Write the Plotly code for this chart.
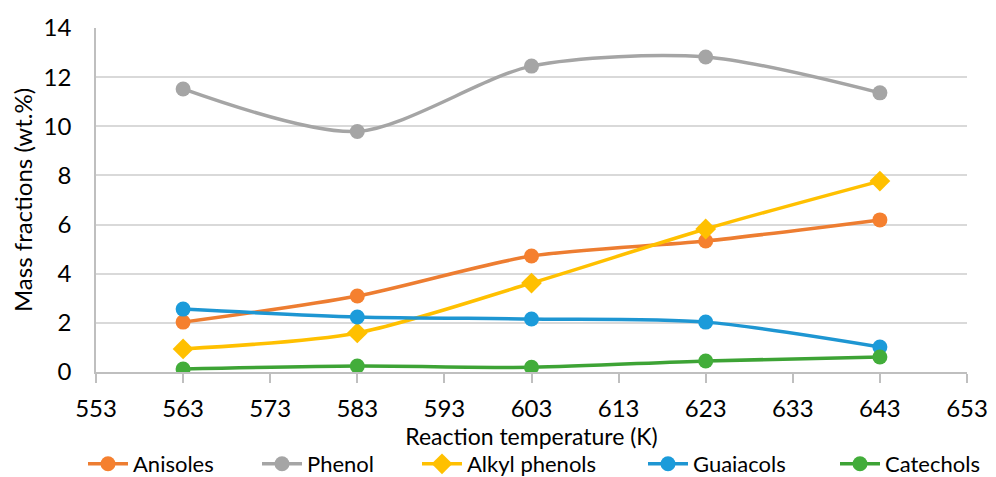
import plotly.graph_objects as go

temps = [563, 583, 603, 623, 643]
anisoles = [2.03, 3.09, 4.72, 5.33, 6.19]
phenol = [11.52, 9.79, 12.45, 12.82, 11.36]
alkyl_phenols = [0.94, 1.59, 3.62, 5.82, 7.77]
guaiacols = [2.56, 2.24, 2.16, 2.03, 1.02]
catechols = [0.12, 0.24, 0.19, 0.45, 0.61]

series = [
    ("Anisoles", anisoles, "#ED7D31", "#F5802F", "circle"),
    ("Phenol", phenol, "#A5A5A5", "#A5A5A5", "circle"),
    ("Alkyl phenols", alkyl_phenols, "#FFC000", "#FFC000", "diamond"),
    ("Guaiacols", guaiacols, "#1E96D2", "#1B9BDA", "circle"),
    ("Catechols", catechols, "#3DA335", "#42AD3A", "circle"),
]
# legend marker centre positions (px, page coords) in the reference
legend_px = [108, 282, 442, 668, 860]

FONT = "Lato, 'Open Sans', sans-serif"
FS = 24
OFF = 8  # page body margin
W, H = 996 - OFF, 477 - OFF
L, T = 96 - OFF, 28 - OFF
R = W - (967 - OFF)
B = H - (372 - OFF)
pw = W - L - R
ph = H - T - B

fig = go.Figure()
layout_legends = {}
for i, (name, vals, lc, mc, sym) in enumerate(series):
    lg = "legend" if i == 0 else f"legend{i+1}"
    fig.add_trace(go.Scatter(
        x=temps, y=vals, name=name, mode="lines+markers",
        line=dict(color=lc, width=3.5, shape="spline", smoothing=0.8),
        marker=dict(color=mc, size=15 if sym == "circle" else 16, symbol=sym),
        legend=lg,
    ))
    layout_legends[lg] = dict(
        x=(legend_px[i] - OFF - 25 - L) / pw, xanchor="left",
        y=(T + ph - 435) / ph, yanchor="top",
        font=dict(size=22, family=FONT), bgcolor="rgba(0,0,0,0)",
        orientation="h", itemwidth=40,
    )

fig.update_layout(
    width=W, height=H,
    margin=dict(l=L, r=R, t=T, b=B, autoexpand=False),
    paper_bgcolor="white", plot_bgcolor="white",
    font=dict(family=FONT, size=FS, color="#000000"),
    showlegend=True,
    **layout_legends,
    xaxis=dict(range=[553, 653], tick0=553, dtick=10, showgrid=False, automargin=False,
               showline=True, linecolor="#BFBFBF", linewidth=1.5,
               ticks="outside", ticklen=9, tickcolor="#BFBFBF", tickwidth=1.5,
               tickfont=dict(size=FS), zeroline=False, ticklabelstandoff=5,
               title=dict(text="Reaction temperature (K)", font=dict(size=23), standoff=4)),
    yaxis=dict(range=[0, 14], dtick=2, showgrid=True, gridcolor="#D9D9D9", gridwidth=1.5,
               showline=True, linecolor="#BFBFBF", linewidth=1.5, zeroline=False, automargin=False,
               tickfont=dict(size=FS), ticks="", ticklabelstandoff=18,
               title=dict(text="Mass fractions (wt.%)", font=dict(size=FS), standoff=7)),
)

fig.write_html("out.html")
